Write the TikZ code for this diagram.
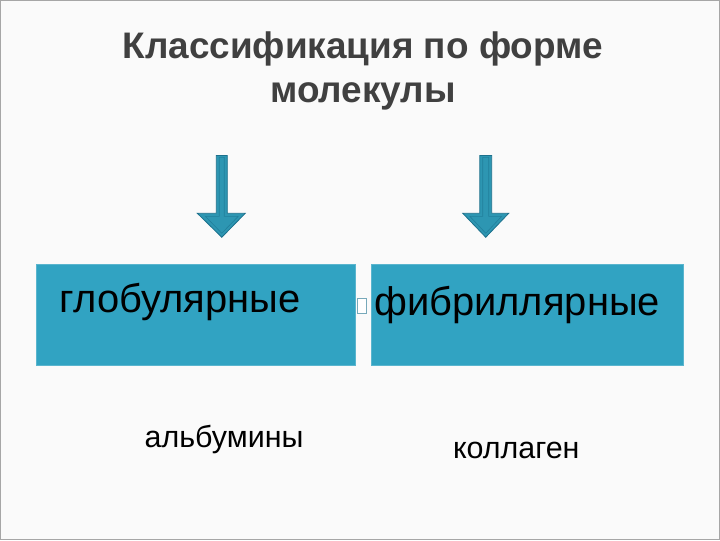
\documentclass[tikz,border=0pt]{standalone}
\usepackage{fontspec}
\setmainfont{Liberation Sans}
\usepackage{xcolor}
\usepackage{tikz}
\definecolor{tealbox}{RGB}{49,163,194}
\definecolor{tealdark}{RGB}{28,112,140}
\definecolor{titlegray}{RGB}{64,64,64}

\begin{document}
\begin{tikzpicture}[x=1pt, y=-1pt]
    \tikzstyle{frame} = [draw=gray!70, line width=1.5pt, fill=white!98!black]
    \tikzstyle{title} = [align=center, text=titlegray, font=\fontsize{37}{44}\selectfont\bfseries]
    \tikzstyle{block} = [rectangle, minimum width=319pt, minimum height=101pt, inner sep=0pt, fill=tealbox, draw=tealbox!80!white, line width=0.6pt]
    \tikzstyle{blocktext} = [anchor=base west, inner sep=0pt, font=\fontsize{40}{48}\selectfont]
    \tikzstyle{example} = [anchor=base west, inner sep=0pt, font=\fontsize{30.5}{36}\selectfont]
    \tikzstyle{downarrow} = [fill=tealbox!92!black, draw=tealdark, line width=0.8pt, line join=miter]
    \tikzstyle{bevel} = [draw=tealdark!70!tealbox, line width=0.6pt]
    \tikzstyle{bullet} = [rectangle, minimum width=9pt, minimum height=15pt, inner sep=0pt, draw=tealdark!60!white, line width=0.6pt, fill=white]

    % Slide background
    \path [frame] (0,0) rectangle (720,540);
    \useasboundingbox (0,0) rectangle (720,540);

    % Title
    \node [title, anchor=north] (heading) at (363,28) {Классификация по форме\\молекулы};

    % Arrows
    \draw [downarrow] (216,155) -- (227,155) -- (227,213) -- (245,213) -- (221.5,237) -- (197,213) -- (216,213) -- cycle;
    \draw [bevel] (219,157) -- (224,157) -- (224,216) -- (238,216) -- (221.5,233) -- (205,216) -- (219,216) -- cycle;
    \draw [downarrow] (480,155) -- (492,155) -- (492,213) -- (509,213) -- (486,237) -- (463,213) -- (480,213) -- cycle;
    \draw [bevel] (483,157) -- (489,157) -- (489,216) -- (502,216) -- (486,233) -- (470,216) -- (483,216) -- cycle;

    % Blocks
    \node [block] (globular) at (195.5,314.5) {};
    \node [block, minimum width=313pt] (fibrillar) at (527.5,314.5) {};
    \node [blocktext] (globtxt) at (59,312) {глобулярные};
    \node [blocktext] (fibtxt) at (374,315) {фибриллярные};
    \node [bullet] (mark) at (361.5,305.5) {};

    % Examples
    \node [example] (albumin) at (144,448) {альбумины};
    \node [example] (collagen) at (453,459) {коллаген};
\end{tikzpicture}
\end{document}
